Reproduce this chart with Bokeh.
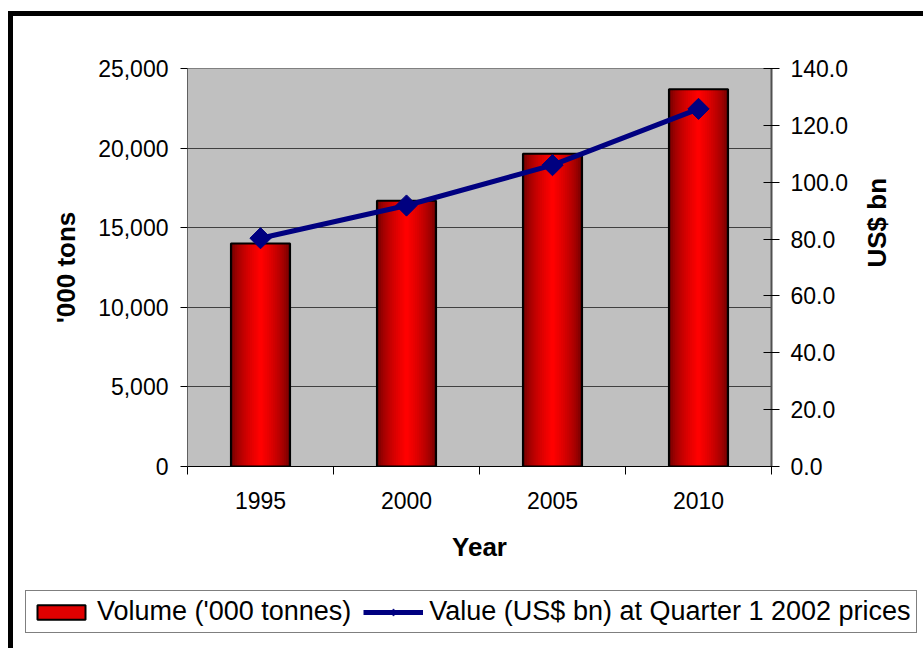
import numpy as np
from bokeh.plotting import figure
from bokeh.models import (Range1d, LinearAxis, FixedTicker, NumeralTickFormatter,
                          Legend, LegendItem, Grid)
from bokeh.embed import file_html
from bokeh.resources import INLINE

# ---- data ----
years = ["1995", "2000", "2005", "2010"]
volume_kt = [14000, 16700, 19650, 23700]          # '000 tonnes (left axis)
value_bn = [80.3, 91.8, 106.0, 125.8]             # US$ bn (right axis)
left_ticks = [0, 5000, 10000, 15000, 20000, 25000]
right_ticks = [0, 20, 40, 60, 80, 100, 120, 140]
series_names = ["Volume ('000 tonnes)", "Value (US$ bn) at Quarter 1 2002 prices"]

xpos = [i + 0.5 for i in range(len(years))]
FONT = "Liberation Sans"

# content starts at page (13, 16) because of the outer frame (8px/11px margin + 5px border)
OX, OY = 13, 16
MAIN_BOTTOM = 110
p = figure(frame_width=771 - 187, frame_height=466 - 68,
           output_backend="svg", toolbar_location=None,
           x_range=Range1d(0, len(years)), y_range=Range1d(0, 25000),
           min_border_left=187 - OX, min_border_right=923 - 771,
           min_border_top=68 - OY, min_border_bottom=MAIN_BOTTOM,
           x_axis_location=None, y_axis_location=None)
p.styles = {"border-left": "5px solid black", "border-top": "5px solid black",
            "margin-left": "8px", "margin-top": "11px"}
p.background_fill_color = "#C0C0C0"
p.border_fill_color = "white"
p.outline_line_color = "#808080"
p.outline_line_width = 1
p.xgrid.visible = False
p.ygrid.visible = False

p.extra_y_ranges = {"val": Range1d(0, 140)}

# axes
xax = LinearAxis(ticker=FixedTicker(ticks=xpos, minor_ticks=list(range(len(years) + 1))))
xax.major_label_overrides = {x: y for x, y in zip(xpos, years)}
xax.major_tick_line_color = None
xax.major_tick_out = 0
xax.major_tick_in = 0
xax.minor_tick_out = 8
xax.minor_tick_in = 0
xax.minor_tick_line_color = "black"
xax.axis_line_color = "black"
xax.major_label_standoff = 17
xax.major_label_text_font = FONT
xax.major_label_text_font_size = "23px"
xax.major_label_text_color = "black"
xax.axis_label = "Year"
xax.axis_label_text_font = FONT
xax.axis_label_text_font_size = "26px"
xax.axis_label_text_font_style = "bold"
xax.axis_label_text_color = "black"
xax.axis_label_standoff = 20
p.add_layout(xax, "below")

yax = LinearAxis(ticker=FixedTicker(ticks=left_ticks),
                 formatter=NumeralTickFormatter(format="0,0"))
yax.major_tick_out = 7
yax.major_tick_in = 0
yax.minor_tick_line_color = None
yax.axis_line_color = "#606060"
yax.major_label_standoff = 12
yax.major_label_text_font = FONT
yax.major_label_text_font_size = "23px"
yax.major_label_text_color = "black"
yax.axis_label = "'000 tons"
yax.axis_label_text_font = FONT
yax.axis_label_text_font_size = "26px"
yax.axis_label_text_font_style = "bold"
yax.axis_label_text_color = "black"
yax.axis_label_standoff = 14
p.add_layout(yax, "left")

rax = LinearAxis(y_range_name="val", ticker=FixedTicker(ticks=right_ticks),
                 formatter=NumeralTickFormatter(format="0.0"))
rax.major_tick_out = 8
rax.major_tick_in = 8
rax.minor_tick_line_color = None
rax.axis_line_color = "#505050"
rax.axis_line_width = 2
rax.major_label_standoff = 11
rax.major_label_text_font = FONT
rax.major_label_text_font_size = "23px"
rax.major_label_text_color = "black"
rax.axis_label = "US$ bn"
rax.axis_label_text_font = FONT
rax.axis_label_text_font_size = "26px"
rax.axis_label_text_font_style = "bold"
rax.axis_label_text_color = "black"
rax.axis_label_standoff = 26
try:
    rax.axis_label_orientation = np.pi / 2
except Exception:
    pass
p.add_layout(rax, "right")

# gridlines (y, from left axis ticks)
grid = Grid(dimension=1, ticker=yax.ticker, grid_line_color="#404040", grid_line_width=1)
p.add_layout(grid, "center")

# bars with simulated horizontal gradient (dark edges, bright centre)
n_layers = 14
outer_w = 0.405
for k in range(n_layers):
    t = k / (n_layers - 1)
    w = outer_w * (1 - 0.93 * t)
    r = int(105 + (255 - 105) * (t ** 0.6))
    col = "#%02x0000" % r
    p.vbar(x=xpos, top=volume_kt, width=w, bottom=0, fill_color=col, line_color=None)
p.vbar(x=xpos, top=volume_kt, width=outer_w, bottom=0, fill_color=None,
       line_color="black", line_width=2)

# line series
p.line(xpos, value_bn, y_range_name="val", line_color="#000080", line_width=5)
p.scatter(xpos, value_bn, y_range_name="val", marker="square", angle=np.pi / 4,
          size=15, fill_color="#000080", line_color="#000080")

# ---- legend strip (separate root canvas directly under the chart) ----
main_h = (68 - OY) + (466 - 68) + MAIN_BOTTOM
leg_h = 648 - OY - main_h
lf = figure(width=923 - OX, height=leg_h, output_backend="svg", toolbar_location=None,
            x_range=Range1d(0, 1), y_range=Range1d(0, 1), min_border=0,
            x_axis_location=None, y_axis_location=None)
lf.styles = {"border-left": "5px solid black", "margin-left": "8px"}
lf.outline_line_color = None
lf.background_fill_color = "white"
lf.border_fill_color = "white"
lf.xgrid.visible = False
lf.ygrid.visible = False
lb = lf.vbar(x=xpos, top=volume_kt, width=outer_w, bottom=0, fill_color="#E00000",
             line_color="black", line_width=2, visible=False)
ll = lf.line(xpos, value_bn, line_color="#000080", line_width=5, visible=False)
lm = lf.scatter(xpos, value_bn, marker="diamond", size=18,
                fill_color="#000080", line_color="#000080", visible=False)

legend = Legend(items=[LegendItem(label=series_names[0], renderers=[lb]),
                       LegendItem(label=series_names[1], renderers=[ll, lm])],
                orientation="horizontal", location=(25 - OX, leg_h - (633 - main_h - OY)))
legend.label_text_font = FONT
legend.label_text_font_size = "27px"
legend.label_text_color = "black"
legend.glyph_width = 60
legend.glyph_height = 18
legend.label_standoff = 6
legend.spacing = 12
legend.padding = 5
legend.margin = 0
legend.border_line_color = "black"
legend.border_line_width = 1
legend.background_fill_color = "white"
legend.background_fill_alpha = 1
legend.label_height = 20
lf.add_layout(legend, "center")

open("out.html", "w").write(file_html([p, lf], INLINE))
